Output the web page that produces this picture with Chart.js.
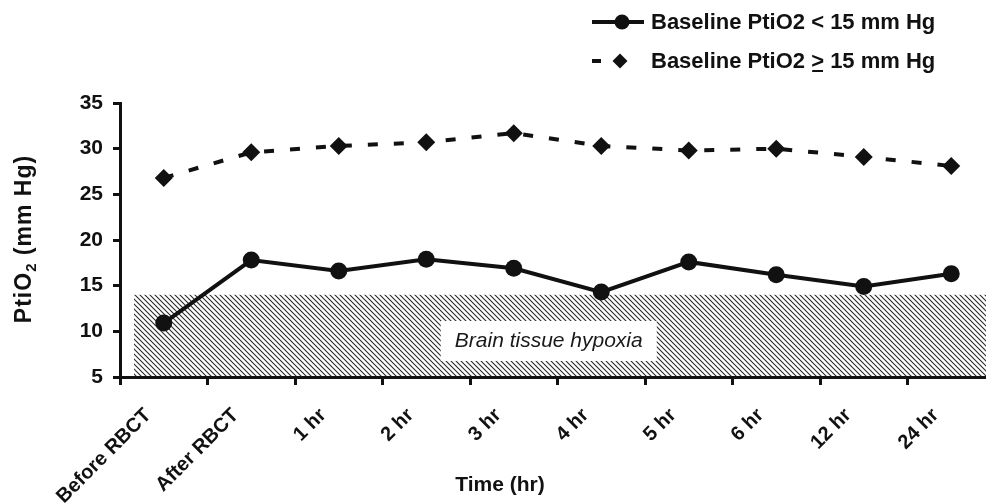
<!DOCTYPE html>
<html><head><meta charset="utf-8">
<script src="https://cdn.jsdelivr.net/npm/chart.js@4.4.1/dist/chart.umd.min.js"></script>
<style>
html,body{margin:0;padding:0;background:#fff;overflow:hidden;width:986px;height:503px}
#wrap{position:absolute;left:0;top:0;width:996px;height:503px}
</style>
</head><body><div id="wrap"><canvas id="c" width="996" height="503"></canvas></div>
<script>
const categories = ['Before RBCT','After RBCT','1 hr','2 hr','3 hr','4 hr','5 hr','6 hr','12 hr','24 hr'];
const lowBaseline = [10.9, 17.8, 16.6, 17.9, 16.9, 14.3, 17.6, 16.2, 14.9, 16.3];
const highBaseline = [26.8, 29.6, 30.3, 30.7, 31.7, 30.3, 29.8, 30.0, 29.1, 28.1];
const yTicks = [5, 10, 15, 20, 25, 30, 35];
const seriesNames = ['Baseline PtiO2 < 15 mm Hg', 'Baseline PtiO2 \u2265 15 mm Hg'];
const hypoxiaRange = [5, 14];
const hypoxiaLabel = 'Brain tissue hypoxia';
const xTitle = 'Time (hr)';
const yTitleParts = ['PtiO', '2', ' (mm Hg)'];

const INK = '#111';
const FONT = '"Liberation Sans", Arial, sans-serif';

function makeHatch(){
  const s = 5;
  const t = document.createElement('canvas');
  t.width = s; t.height = s;
  const g = t.getContext('2d');
  g.strokeStyle = '#2a2a2a';
  g.lineWidth = 1.1;
  g.beginPath();
  g.moveTo(-1,-1); g.lineTo(s+1,s+1);
  g.moveTo(s-1,-1); g.lineTo(s+1,1);
  g.moveTo(-1,s-1); g.lineTo(1,s+1);
  g.stroke();
  return t;
}

const hypoxiaPlugin = {
  id: 'hypoxia',
  beforeDatasetsDraw(chart){
    const {ctx, chartArea, scales:{x, y}} = chart;
    const step = x.getPixelForValue(1) - x.getPixelForValue(0);
    const left = x.getPixelForValue(0) - 0.34 * step;
    const top = y.getPixelForValue(hypoxiaRange[1]);
    const bottom = y.getPixelForValue(hypoxiaRange[0]);
    ctx.save();
    ctx.fillStyle = ctx.createPattern(makeHatch(), 'repeat');
    ctx.fillRect(left, top, chartArea.right - left, bottom - top - 1);
    const cx = x.getPixelForValue(4.4);
    const cy = y.getPixelForValue(9.05);
    ctx.fillStyle = '#fff';
    ctx.fillRect(cx - 108, cy - 19, 216, 40);
    ctx.fillStyle = '#1a1a1a';
    ctx.font = 'italic 21px ' + FONT;
    ctx.textAlign = 'center';
    ctx.textBaseline = 'middle';
    ctx.fillText(hypoxiaLabel, cx, cy + 1);
    ctx.restore();
  }
};

const decorPlugin = {
  id: 'decor',
  afterDraw(chart){
    const {ctx} = chart;
    ctx.save();
    ctx.fillStyle = INK;
    ctx.strokeStyle = INK;
    ctx.font = 'bold 21px ' + FONT;
    ctx.textAlign = 'center';
    ctx.textBaseline = 'middle';
    ctx.fillText(xTitle, 500, 485);
    ctx.save();
    ctx.translate(31, 239);
    ctx.rotate(-Math.PI/2);
    ctx.textBaseline = 'alphabetic';
    ctx.textAlign = 'left';
    if ('letterSpacing' in ctx) ctx.letterSpacing = '1px';
    const big = 'bold 23px ' + FONT, small = 'bold 15px ' + FONT;
    ctx.font = big; const w0 = ctx.measureText(yTitleParts[0]).width;
    ctx.font = small; const w1 = ctx.measureText(yTitleParts[1]).width;
    ctx.font = big; const w2 = ctx.measureText(yTitleParts[2]).width;
    let sx = -(w0 + w1 + w2) / 2;
    ctx.font = big; ctx.fillText(yTitleParts[0], sx, 0); sx += w0;
    ctx.font = small; ctx.fillText(yTitleParts[1], sx, 5); sx += w1;
    ctx.font = big; ctx.fillText(yTitleParts[2], sx, 0);
    if ('letterSpacing' in ctx) ctx.letterSpacing = '0px';
    ctx.restore();

    ctx.font = 'bold 22px ' + FONT;
    ctx.textAlign = 'left';
    ctx.textBaseline = 'middle';
    ctx.lineWidth = 4;
    ctx.beginPath(); ctx.moveTo(592, 22); ctx.lineTo(644, 22); ctx.stroke();
    ctx.beginPath(); ctx.arc(622, 22, 7.5, 0, Math.PI*2); ctx.fill();
    ctx.fillText(seriesNames[0], 651, 23);
    ctx.beginPath(); ctx.moveTo(592, 61); ctx.lineTo(601, 61); ctx.stroke();
    ctx.beginPath();
    ctx.moveTo(620, 53.5); ctx.lineTo(627.5, 61); ctx.lineTo(620, 68.5); ctx.lineTo(612.5, 61); ctx.closePath(); ctx.fill();
    const name = seriesNames[1];
    const idx = name.indexOf('\u2265');
    const a = name.slice(0, idx), b = '>', c = name.slice(idx + 1);
    let lx = 651;
    ctx.fillText(a, lx, 62); lx += ctx.measureText(a).width;
    const bw = ctx.measureText(b).width;
    ctx.fillText(b, lx, 62);
    ctx.fillRect(lx + 1, 70, bw - 2, 2);
    lx += bw;
    ctx.fillText(c, lx, 62);
    ctx.restore();
  }
};

new Chart(document.getElementById('c'), {
  type: 'line',
  data: {
    labels: categories,
    datasets: [
      {
        label: seriesNames[0],
        data: lowBaseline,
        borderColor: INK,
        backgroundColor: INK,
        borderWidth: 4,
        pointStyle: 'circle',
        pointRadius: 8.5,
        pointBackgroundColor: INK,
        pointBorderWidth: 0,
        tension: 0,
        fill: false
      },
      {
        label: seriesNames[1],
        data: highBaseline,
        borderColor: INK,
        backgroundColor: INK,
        borderWidth: 4,
        borderDash: [10, 16],
        pointStyle: 'rectRot',
        pointRadius: 9,
        pointBackgroundColor: INK,
        pointBorderWidth: 0,
        tension: 0,
        fill: false
      }
    ]
  },
  options: {
    responsive: false,
    animation: false,
    devicePixelRatio: 1,
    layout: { autoPadding: false, padding: { top: 103, right: 1, bottom: 0, left: 0 } },
    plugins: { legend: { display: false }, tooltip: { enabled: false }, title: { display: false } },
    scales: {
      x: {
        type: 'category',
        offset: true,
        grid: { display: true, drawOnChartArea: false, drawTicks: true, tickLength: 8, tickWidth: 3, tickColor: INK, offset: true },
        border: { display: true, width: 3, color: INK },
        ticks: {
          color: INK, font: { family: FONT, size: 20, weight: 'bold' },
          maxRotation: 45, minRotation: 45, autoSkip: false, padding: 3,
          callback: (v, i) => categories[i] + '    '
        },
        afterFit(scale){ scale.height = 126; }
      },
      y: {
        min: yTicks[0],
        max: yTicks[yTicks.length - 1],
        afterBuildTicks(scale){ scale.ticks = yTicks.map(v => ({ value: v })); },
        grid: { display: true, drawOnChartArea: false, drawTicks: true, tickLength: 7, tickWidth: 3, tickColor: INK },
        border: { display: true, width: 3, color: INK },
        ticks: { color: INK, font: { family: FONT, size: 21, weight: 'bold' }, padding: 10 },
        afterFit(scale){ scale.width = 120; }
      }
    }
  },
  plugins: [hypoxiaPlugin, decorPlugin]
});
</script>
</body></html>
